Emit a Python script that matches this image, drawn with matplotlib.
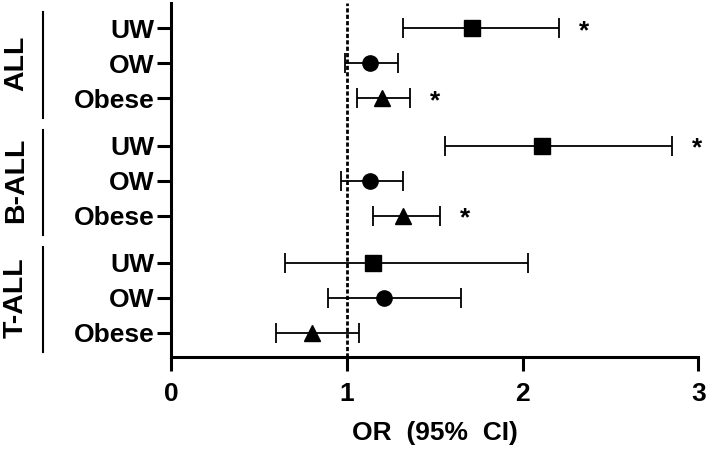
import matplotlib.pyplot as plt
import matplotlib.transforms as mtransforms

plt.rcParams['font.family'] = ['Liberation Sans', 'DejaVu Sans']
plt.rcParams['font.weight'] = 'bold'

# Data
groups = ['ALL', 'B-ALL', 'T-ALL']
subgroups = ['UW', 'OW', 'Obese']
or_values = [1.71, 1.13, 1.20,
             2.11, 1.13, 1.32,
             1.15, 1.21, 0.80]
ci_low = [1.32, 0.99, 1.06,
          1.56, 0.97, 1.15,
          0.65, 0.895, 0.60]
ci_high = [2.21, 1.29, 1.36,
           2.85, 1.32, 1.53,
           2.03, 1.65, 1.07]
significant = [True, False, True,
               True, False, True,
               False, False, False]

markers = {'UW': 's', 'OW': 'o', 'Obese': '^'}

# row positions (top to bottom), small gap between groups
positions = [0, 1, 2, 3.35, 4.35, 5.35, 6.7, 7.7, 8.7]

fig = plt.figure(figsize=(7.09, 4.54), dpi=100)
ax = fig.add_axes([171 / 709, 1 - 356.7 / 454, (698.3 - 171) / 709, (356.7 - 3) / 454])

labels = []
for i, y in enumerate(positions):
    sub = subgroups[i % 3]
    labels.append(sub)
    ax.errorbar(or_values[i], y,
                xerr=[[or_values[i] - ci_low[i]], [ci_high[i] - or_values[i]]],
                fmt=markers[sub], color='black', markersize=11 if sub != 'Obese' else 12,
                elinewidth=1.3, capsize=7, capthick=1.3, zorder=3)
    if significant[i]:
        ax.annotate('*', xy=(ci_high[i], y), xytext=(18, -2), textcoords='offset points',
                    ha='center', va='center', fontsize=19, fontweight='bold')

ax.axvline(1, color='black', linewidth=2, dashes=(1.5, 0.8), zorder=1)

ax.set_xlim(0, 3)
ax.set_ylim(9.38, -0.72)
ax.set_xticks([0, 1, 2, 3])
ax.set_yticks(positions)
ax.set_yticklabels(labels)
ax.tick_params(axis='both', width=2.2, length=10, labelsize=19)
ax.tick_params(axis='x', pad=8)
ax.tick_params(axis='y', pad=2)
for lbl in ax.get_xticklabels() + ax.get_yticklabels():
    lbl.set_fontweight('bold')

ax.spines['top'].set_visible(False)
ax.spines['right'].set_visible(False)
ax.spines['left'].set_linewidth(2.2)
ax.spines['bottom'].set_linewidth(2.2)

ax.set_xlabel('OR  (95%  CI)', fontsize=19, fontweight='bold', labelpad=11)

# group labels with vertical brackets
trans = mtransforms.blended_transform_factory(fig.transFigure, ax.transData)
for g, name in enumerate(groups):
    rows = positions[g * 3:g * 3 + 3]
    ax.plot([43 / 709, 43 / 709], [rows[0] - 0.45, rows[-1] + 0.55], transform=trans,
            color='black', linewidth=1.5, clip_on=False)
    ax.text(16 / 709, rows[1], name, transform=trans, rotation=90, ha='center', va='center',
            fontsize=20.5, fontweight='bold')

fig.savefig('out.png', dpi=100)
